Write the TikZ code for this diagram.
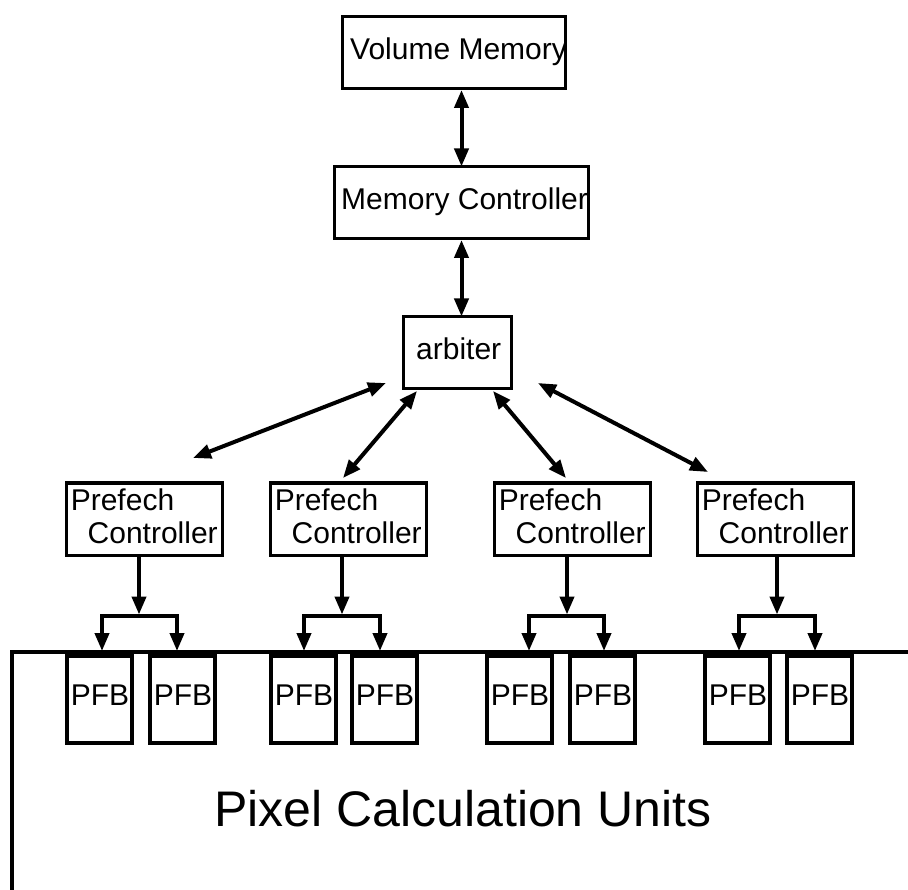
\documentclass[tikz,border=0pt]{standalone}
\usepackage{fontspec}
\setmainfont{Liberation Sans}
\usetikzlibrary{arrows.meta}
\begin{document}
\begin{tikzpicture}[x=1pt,y=-1pt,
  box/.style={draw, line width=3pt, rectangle, inner sep=0pt, minimum height=72pt},
  bufbox/.style={draw, fill=white, line width=4pt, rectangle, inner sep=0pt,
                 minimum width=65pt, minimum height=87pt, anchor=north west},
  lbl/.style={inner sep=0pt, anchor=base west, font=\fontsize{30}{36}\selectfont},
  biglbl/.style={inner sep=0pt, anchor=base west, font=\fontsize{50}{60}\selectfont},
  wire/.style={line width=4pt},
  tip/.tip={Triangle[length=18pt,width=14pt]},
  dbl/.style={wire, tip-tip},
  feed/.style={wire, -tip},
  fork/.style={wire, line join=miter, tip-tip}]
\useasboundingbox (0,0) rectangle (908,890);

% memory chain
\node[box, minimum width=223pt] (vm) at (454,52.5) {};
\node[lbl] (vmtext) at (350,60) {Volume Memory};
\node[box, minimum width=254pt] (mc) at (461.5,202.5) {};
\node[lbl] (mctext) at (341,210) {Memory Controller};
\node[box, minimum width=108pt] (arb) at (457.5,352.5) {};
\node[lbl] (arbtext) at (416,360) {arbiter};

\draw[dbl] (vm.south -| mc.north) -- ([yshift=-1.5pt]mc.north);
\draw[dbl] (mc.south) -- ([yshift=-1.5pt]arb.north -| mc.south);

% pixel calculation unit outline
\coordinate (pcuBottom) at (12,890);
\coordinate (pcuRight) at (908,652);
\draw[wire] (pcuBottom) |- (pcuRight);
\node[biglbl] (pcutext) at (214,826) {Pixel Calculation Units};

% prefetch controllers with their buffers
\foreach \i/\pl/\ax/\bl/\br/\fa/\fb in {1/63/139/102/177/63/146,
                                        2/267/342/304/380/267/348,
                                        3/491/567/529/604/483/566,
                                        4/694/777/739/815/701/783}{
  \node[box, minimum width=156pt, anchor=north west] (pc\i) at (\pl+1.5,481.5) {};
  \node[lbl] (pcA\i) at (\pl+7.6,510) {Prefech};
  \node[lbl] (pcB\i) at (\pl+24.5,543) {Controller};
  \node[bufbox] (fa\i) at (\fa+2,654) {};
  \node[bufbox] (fb\i) at (\fb+2,654) {};
  \node[lbl] (faT\i) at (\fa+7.6,705) {PFB};
  \node[lbl] (fbT\i) at (\fb+7.6,705) {PFB};
  \coordinate (j\i) at (\ax,616);
  \coordinate (jt\i) at (\ax,614.5);
  \coordinate (la\i) at (\bl,651);
  \coordinate (lb\i) at (\br,651);
  \draw[feed] (pc\i.south -| j\i) -- (jt\i);
  \draw[fork] (la\i) |- (j\i) -| (lb\i);
}

% links between the arbiter and the controllers
\coordinate (a1s) at (193,458);
\coordinate (a1e) at (386,383);
\coordinate (a2s) at (343,478);
\coordinate (a2e) at (417,391);
\coordinate (a3s) at (566,478);
\coordinate (a3e) at (493,391);
\coordinate (a4s) at (708,472);
\coordinate (a4e) at (538,383);
\draw[dbl] (a1s) -- (a1e);
\draw[dbl] (a2s) -- (a2e);
\draw[dbl] (a3s) -- (a3e);
\draw[dbl] (a4s) -- (a4e);
\end{tikzpicture}
\end{document}
